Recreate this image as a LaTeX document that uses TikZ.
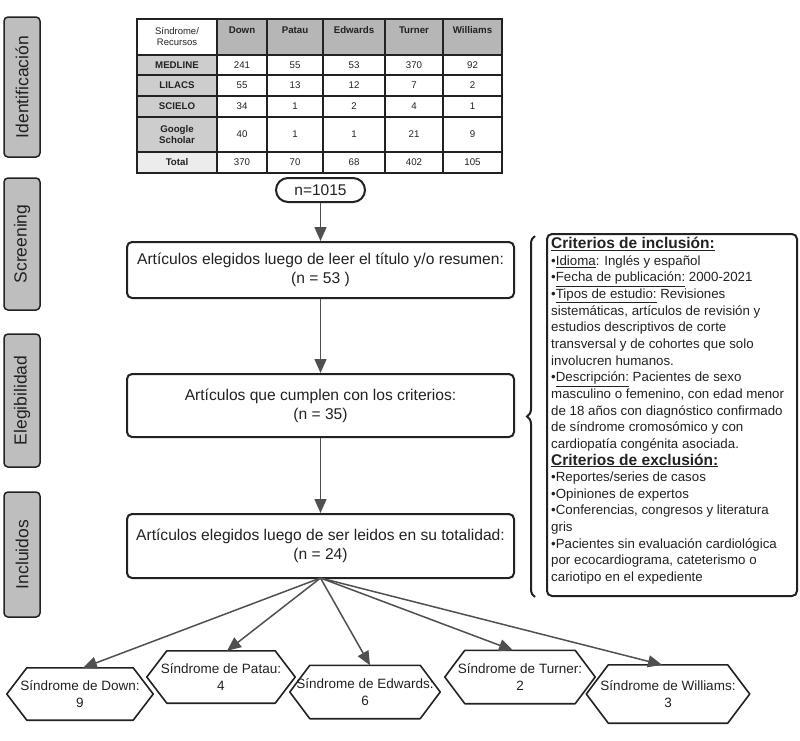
\documentclass[tikz,border=0pt]{standalone}
\usepackage{fontspec}
\setmainfont{Liberation Sans}
\usetikzlibrary{arrows.meta,decorations.pathreplacing}
\definecolor{ink}{RGB}{34,34,34}
\definecolor{arr}{RGB}{80,80,80}
\definecolor{sidefill}{RGB}{190,190,190}
\definecolor{hdrfill}{RGB}{182,182,182}
\definecolor{labfill}{RGB}{205,205,205}
\definecolor{totfill}{RGB}{236,236,236}
\tikzset{
  side/.style={draw=ink, line width=1.5pt, fill=sidefill, rounded corners=4pt, rotate=90,
    minimum height=36pt, inner sep=0pt, font=\fontsize{17.5}{20}\selectfont, text=ink},
  mainbox/.style={draw=ink, line width=2pt, rounded corners=5pt, minimum width=387pt,
    align=center, font=\fontsize{15.6}{19}\selectfont, text=ink},
  hexbox/.style={inner sep=0pt, align=center, font=\fontsize{13.5}{17}\selectfont, text=ink},
  hexline/.style={draw=ink, line width=1.6pt, line join=round},
  flow/.style={draw=arr, line width=1.5pt, -{Triangle[length=14pt,width=12pt]}},
  lab/.style={font=\fontsize{9.7}{11}\selectfont\bfseries, text=ink, align=center},
  val/.style={font=\fontsize{9.7}{11}\selectfont, text=ink},
  hdr/.style={font=\fontsize{9.7}{11}\selectfont\bfseries, text=ink},
}
\newcommand{\trow}[8]{%
  \node[lab] (l#1) at (177,#2) {#3};
  \node[val] (v#1a) at (242,#2) {#4};
  \node[val] (v#1b) at (295,#2) {#5};
  \node[val] (v#1c) at (354,#2) {#6};
  \node[val] (v#1d) at (414,#2) {#7};
  \node[val] (v#1e) at (472.5,#2) {#8};
}
% name, x, y, width, height, inset, text
\newcommand{\hexnode}[7]{%
  \node[hexbox, minimum width=#4pt, minimum height=#5pt] (#1) at (#2,#3) {#7};
  \draw[hexline] (#1.west) -- ([xshift=#6pt]#1.north west) -- ([xshift=-#6pt]#1.north east)
    -- (#1.east) -- ([xshift=-#6pt]#1.south east) -- ([xshift=#6pt]#1.south west) -- cycle;
}
\begin{document}
\begin{tikzpicture}[x=1pt,y=-1pt]
\useasboundingbox[fill=white] (0,0) rectangle (800,740);

% side labels
\node[side, minimum width=140pt] (sid) at (22,87) {Identificación};
\node[side, minimum width=132pt] (sscr) at (22,244) {Screening};
\node[side, minimum width=133pt] (sel) at (22,400.5) {Elegibilidad};
\node[side, minimum width=125pt] (sinc) at (22,554.5) {Incluidos};

% table
\fill[hdrfill] (217,19) rectangle (502,55);
\fill[labfill] (137,55) rectangle (217,152);
\fill[totfill] (137,152) rectangle (217,173);
\foreach \x in {217,267,323,385,443} \draw[ink, line width=1.1pt] (\x,19) -- (\x,173);
\foreach \y in {55,75,96,117,152} \draw[ink, line width=1.1pt] (137,\y) -- (502,\y);
\draw[ink, line width=1.5pt] (137,19) rectangle (502,173);
\node[font=\fontsize{9.5}{11}\selectfont, text=ink, align=center] (h0) at (177,37) {Síndrome/\\Recursos};
\foreach \x/\t [count=\i] in {242/Down,295/Patau,354/Edwards,414/Turner,472.5/Williams}
  \node[hdr] (h\i) at (\x,30) {\t};
\trow{1}{65}{MEDLINE}{241}{55}{53}{370}{92}
\trow{2}{85.5}{LILACS}{55}{13}{12}{7}{2}
\trow{3}{106.5}{SCIELO}{34}{1}{2}{4}{1}
\trow{4}{134.5}{Google\\Scholar}{40}{1}{1}{21}{9}
\trow{5}{162.5}{Total}{370}{70}{68}{402}{105}

% flow
\node[draw=ink, line width=2pt, rounded corners=12pt, minimum width=89pt, minimum height=24pt,
  inner sep=0pt, font=\fontsize{15.5}{17}\selectfont, text=ink] (n0) at (320.5,190) {n=1015};
\node[mainbox, minimum height=56pt] (b1) at (320.5,270) {Artículos elegidos luego de leer el título y/o resumen:\\(n = 53 )};
\node[mainbox, minimum height=63pt] (b2) at (320.5,405.5) {Artículos que cumplen con los criterios:\\(n = 35)};
\node[mainbox, minimum height=64pt] (b3) at (320.5,546) {Artículos elegidos luego de ser leidos en su totalidad:\\(n = 24)};
\draw[flow] (n0) -- (b1);
\draw[flow] (b1) -- (b2);
\draw[flow] (b2) -- (b3);

% outcomes
\hexnode{down}{80}{694}{146}{52}{20}{Síndrome de Down:\\9}
\hexnode{patau}{221}{677}{148}{52}{20}{Síndrome de Patau:\\4}
\hexnode{edw}{365}{692}{150}{53}{20}{Síndrome de Edwards:\\6}
\hexnode{tur}{520}{677}{150}{53}{20}{Síndrome de Turner:\\2}
\hexnode{wil}{668}{694}{163}{58}{22}{Síndrome de Williams:\\3}
\coordinate (fan) at (320.5,578);
\draw[flow] (fan) -- ([xshift=3pt]down.north);
\draw[flow] (fan) -- ([xshift=6pt]patau.north);
\draw[flow] (fan) -- ([xshift=5pt]edw.north);
\draw[flow] (fan) -- ([xshift=-7pt]tur.north);
\draw[flow] (fan) -- ([xshift=-6pt]wil.north);

% criteria
\node[draw=ink, line width=2pt, rounded corners=5pt, minimum width=250pt, minimum height=362pt, inner sep=0pt] (crit) at (672,415) {};
\node[anchor=north west, align=left, inner sep=0pt, text=ink, font=\fontsize{13.3}{16.65}\selectfont] (crittext) at (551,237)
{{\fontsize{15.5}{16.65}\selectfont\bfseries\underline{Criterios de inclusión:}}\\
•\underline{Idioma}: Inglés y español\\
•\underline{Fecha de publicación:} 2000-2021\\
•\underline{Tipos de estudio:} Revisiones\\
sistemáticas, artículos de revisión y\\
estudios descriptivos de corte\\
transversal y de cohortes que solo\\
involucren humanos.\\
•\underline{Descripción:} Pacientes de sexo\\
masculino o femenino, con edad menor\\
de 18 años con diagnóstico confirmado\\
de síndrome cromosómico y con\\
cardiopatía congénita asociada.\\
{\fontsize{15.5}{16.65}\selectfont\bfseries\underline{Criterios de exclusión:}}\\
•Reportes/series de casos\\
•Opiniones de expertos\\
•Conferencias, congresos y literatura\\
gris\\
•Pacientes sin evaluación cardiológica\\
por ecocardiograma, cateterismo o\\
cariotipo en el expediente};
\draw[ink, line width=2pt, decorate, decoration={brace, amplitude=8pt}] (535,597) -- (535,236);
\end{tikzpicture}
\end{document}
